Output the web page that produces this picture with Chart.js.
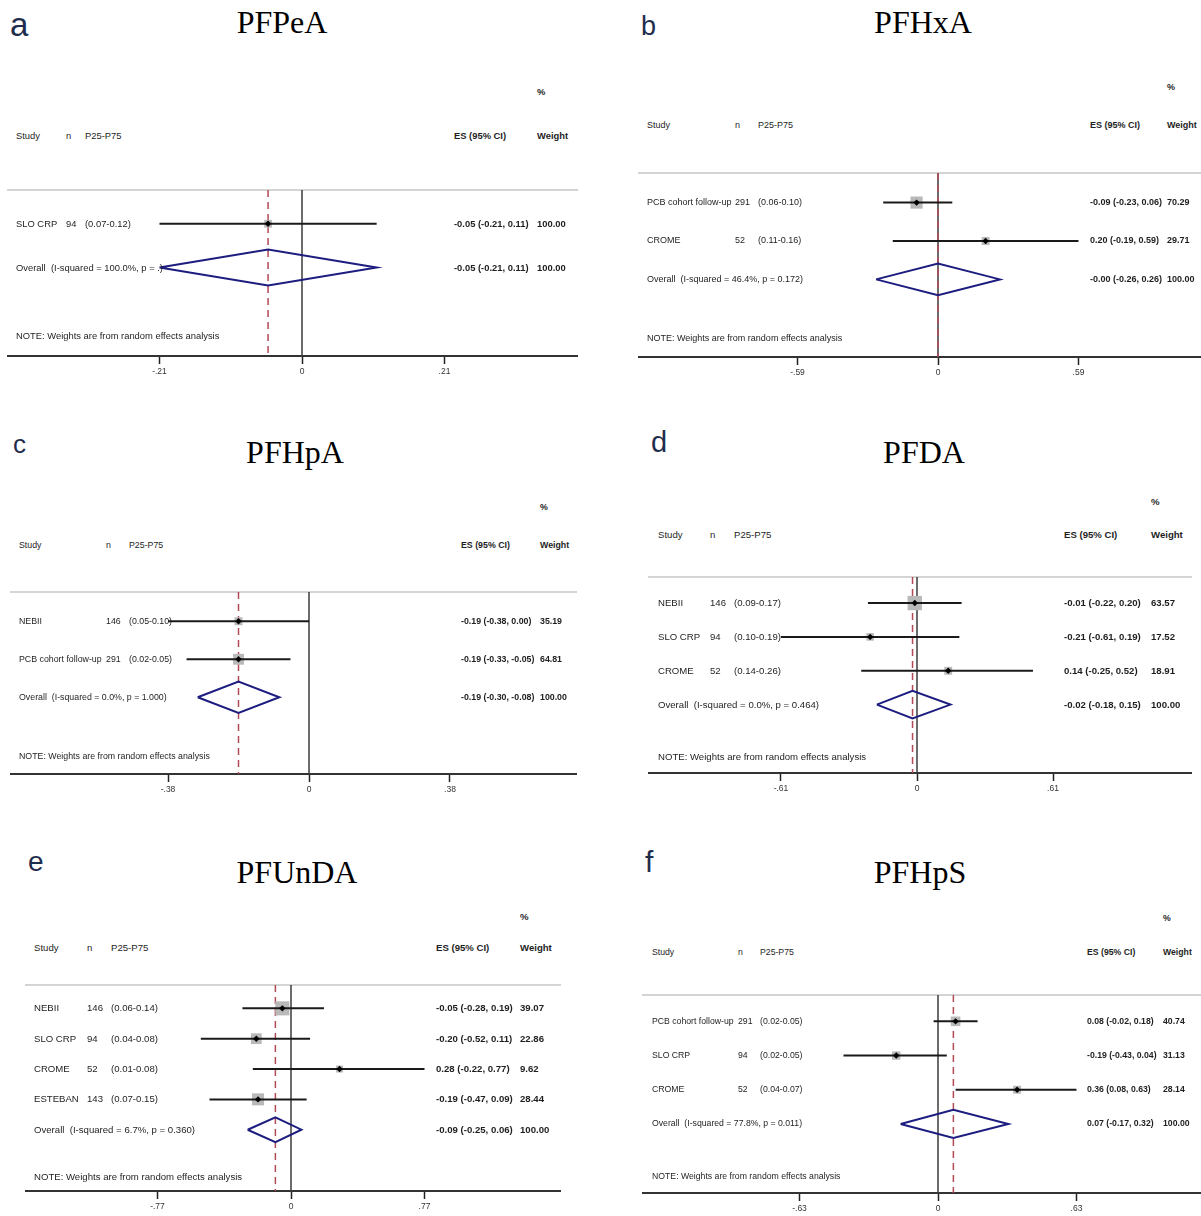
<!DOCTYPE html>
<html><head><meta charset="utf-8">
<script src="https://cdn.jsdelivr.net/npm/chart.js@4/dist/chart.umd.min.js"></script>
<style>
html,body{margin:0;padding:0;background:#fff}
body{width:1201px;height:1216px;position:relative;overflow:hidden;font-family:'Liberation Sans',Arial,sans-serif}
.t{position:absolute;white-space:pre;color:#1e1e1e}
.b{font-weight:bold}
.title{position:absolute;font-family:'Liberation Serif','Times New Roman',serif;color:#000;white-space:nowrap;line-height:1}
.letter{position:absolute;font-family:'Liberation Sans',Arial,sans-serif;color:#1f2d4d;line-height:1}
canvas{position:absolute}
</style></head><body>
<script>
// ---------- DATA ----------
const panelLetters = ['a','b','c','d','e','f'];
const panelTitles  = ['PFPeA','PFHxA','PFHpA','PFDA','PFUnDA','PFHpS'];

const studies_a = ['SLO CRP'];
const n_a   = [94];
const iqr_a = ['(0.07-0.12)'];
const es_a  = [-0.05];
const lo_a  = [-0.21];
const hi_a  = [0.11];
const wt_a  = [100.00];
const overall_a = [-0.05, -0.21, 0.11];
const het_a = 'I-squared = 100.0%, p = .';
const tick_a = 0.21;

const studies_b = ['PCB cohort follow-up','CROME'];
const n_b   = [291, 52];
const iqr_b = ['(0.06-0.10)','(0.11-0.16)'];
const es_b  = [-0.09, 0.20];
const lo_b  = [-0.23, -0.19];
const hi_b  = [0.06, 0.59];
const wt_b  = [70.29, 29.71];
const overall_b = [-0.00, -0.26, 0.26];
const het_b = 'I-squared = 46.4%, p = 0.172';
const tick_b = 0.59;

const studies_c = ['NEBII','PCB cohort follow-up'];
const n_c   = [146, 291];
const iqr_c = ['(0.05-0.10)','(0.02-0.05)'];
const es_c  = [-0.19, -0.19];
const lo_c  = [-0.38, -0.33];
const hi_c  = [0.00, -0.05];
const wt_c  = [35.19, 64.81];
const overall_c = [-0.19, -0.30, -0.08];
const het_c = 'I-squared = 0.0%, p = 1.000';
const tick_c = 0.38;

const studies_d = ['NEBII','SLO CRP','CROME'];
const n_d   = [146, 94, 52];
const iqr_d = ['(0.09-0.17)','(0.10-0.19)','(0.14-0.26)'];
const es_d  = [-0.01, -0.21, 0.14];
const lo_d  = [-0.22, -0.61, -0.25];
const hi_d  = [0.20, 0.19, 0.52];
const wt_d  = [63.57, 17.52, 18.91];
const overall_d = [-0.02, -0.18, 0.15];
const het_d = 'I-squared = 0.0%, p = 0.464';
const tick_d = 0.61;

const studies_e = ['NEBII','SLO CRP','CROME','ESTEBAN'];
const n_e   = [146, 94, 52, 143];
const iqr_e = ['(0.06-0.14)','(0.04-0.08)','(0.01-0.08)','(0.07-0.15)'];
const es_e  = [-0.05, -0.20, 0.28, -0.19];
const lo_e  = [-0.28, -0.52, -0.22, -0.47];
const hi_e  = [0.19, 0.11, 0.77, 0.09];
const wt_e  = [39.07, 22.86, 9.62, 28.44];
const overall_e = [-0.09, -0.25, 0.06];
const het_e = 'I-squared = 6.7%, p = 0.360';
const tick_e = 0.77;

const studies_f = ['PCB cohort follow-up','SLO CRP','CROME'];
const n_f   = [291, 94, 52];
const iqr_f = ['(0.02-0.05)','(0.02-0.05)','(0.04-0.07)'];
const es_f  = [0.08, -0.19, 0.36];
const lo_f  = [-0.02, -0.43, 0.08];
const hi_f  = [0.18, 0.04, 0.63];
const wt_f  = [40.74, 31.13, 28.14];
const overall_f = [0.07, -0.17, 0.32];
const het_f = 'I-squared = 77.8%, p = 0.011';
const tick_f = 0.63;

// ---------- LAYOUT (positions / sizes / styles) ----------
const layouts = [
  {L:7,  R:578,  T:190, B:356,  zx:302, ppu:678.6, cols:[16,66,85,454,537],     fs:9.4, box:0.77, tx:282, tb:33,  lx:10,  lb:36,  ls:33},
  {L:638,R:1201, T:173, B:357,  zx:938, ppu:238.1, cols:[647,735,758,1090,1167], fs:9.0, box:1.45, tx:923, tb:33,  lx:641, lb:36,  ls:27},
  {L:10, R:577,  T:592, B:774,  zx:309, ppu:371.0, cols:[19,106,129,461,540],    fs:8.8, box:1.35, tx:295, tb:463, lx:13,  lb:453, ls:26},
  {L:648,R:1192, T:577, B:773,  zx:917, ppu:223.0, cols:[658,710,734,1064,1151], fs:9.6, box:1.8,  tx:924, tb:463, lx:651, lb:453, ls:29},
  {L:25, R:561,  T:985, B:1191, zx:291, ppu:173.4, cols:[34,87,111,436,520],     fs:9.6, box:2.25, tx:297, tb:883, lx:28,  lb:872, ls:28},
  {L:642,R:1201, T:995, B:1193, zx:938, ppu:219.8, cols:[652,738,760,1087,1163], fs:8.7, box:1.5,  tx:920, tb:883, lx:645, lb:872, ls:30}
];

const panels = [
  {studies:studies_a,n:n_a,iqr:iqr_a,es:es_a,lo:lo_a,hi:hi_a,wt:wt_a,ov:overall_a,het:het_a,tick:tick_a},
  {studies:studies_b,n:n_b,iqr:iqr_b,es:es_b,lo:lo_b,hi:hi_b,wt:wt_b,ov:overall_b,het:het_b,tick:tick_b},
  {studies:studies_c,n:n_c,iqr:iqr_c,es:es_c,lo:lo_c,hi:hi_c,wt:wt_c,ov:overall_c,het:het_c,tick:tick_c},
  {studies:studies_d,n:n_d,iqr:iqr_d,es:es_d,lo:lo_d,hi:hi_d,wt:wt_d,ov:overall_d,het:het_d,tick:tick_d},
  {studies:studies_e,n:n_e,iqr:iqr_e,es:es_e,lo:lo_e,hi:hi_e,wt:wt_e,ov:overall_e,het:het_e,tick:tick_e},
  {studies:studies_f,n:n_f,iqr:iqr_f,es:es_f,lo:lo_f,hi:hi_f,wt:wt_f,ov:overall_f,het:het_f,tick:tick_f}
];

const AXIS_H = 26, PAD_TOP = 3;
const Y_TOP = -0.77, Y_BOTTOM_EXTRA = 2.02, DIAMOND_H = 0.41;

function fmt(v){ const neg = v < 0 || Object.is(v,-0); return (neg?'-':'') + Math.abs(v).toFixed(2); }
function fmtTick(v){ if (Math.abs(v) < 1e-9) return '0'; return (v<0?'-':'') + Math.abs(v).toFixed(2).replace(/^0/,''); }

function addText(str, x, y, fs, bold){
  const d = document.createElement('div');
  d.className = 't' + (bold ? ' b' : '');
  d.textContent = str;
  d.style.left = x + 'px';
  d.style.top = (y - fs*0.52) + 'px';
  d.style.fontSize = fs + 'px';
  d.style.lineHeight = fs + 'px';
  document.body.appendChild(d);
}

function build(P, G, idx){
  const N = P.studies.length;
  const yMin = Y_TOP, yMax = N + Y_BOTTOM_EXTRA;
  const cw = G.R - G.L, ch = G.B - G.T + PAD_TOP + AXIS_H;
  const canvas = document.createElement('canvas');
  canvas.width = cw; canvas.height = ch;
  canvas.style.left = G.L + 'px'; canvas.style.top = (G.T - PAD_TOP) + 'px';
  canvas.style.width = cw + 'px'; canvas.style.height = ch + 'px';
  document.body.appendChild(canvas);

  const xMin = (G.L - G.zx) / G.ppu, xMax = (G.R - G.zx) / G.ppu;
  const ds = [];
  ds.push({label:'estimate', data:P.es.map((v,i)=>({x:v,y:i})), pointStyle:'rectRot', pointRadius:3.2,
           backgroundColor:'#000', borderColor:'#000', borderWidth:0, order:0});
  const o = P.ov;
  ds.push({label:'overall', data:[{x:o[1],y:N},{x:o[0],y:N-DIAMOND_H},{x:o[2],y:N},{x:o[0],y:N+DIAMOND_H},{x:o[1],y:N}],
           showLine:true, pointRadius:0, borderColor:'#1d1d80', borderWidth:2, fill:false, tension:0, order:1});
  P.studies.forEach((s,i)=>ds.push({label:s, data:[{x:P.lo[i],y:i},{x:P.hi[i],y:i}], showLine:true, pointRadius:0,
           borderColor:'#1a1a1a', borderWidth:2, order:2}));
  ds.push({label:'weight', data:P.es.map((v,i)=>({x:v,y:i})), pointStyle:'rect',
           pointRadius:P.wt.map(w=>G.box*Math.sqrt(w)/Math.SQRT2), backgroundColor:'#b9b9b9', borderWidth:0, order:3});
  ds.push({label:'pooled', data:[{x:o[0],y:yMin},{x:o[0],y:yMax}], showLine:true, pointRadius:0,
           borderColor:'#b24a58', borderWidth:1.5, borderDash:[7,5], order:4});
  ds.push({label:'null', data:[{x:0,y:yMin},{x:0,y:yMax}], showLine:true, pointRadius:0,
           borderColor:'#3c3c3c', borderWidth:1.5, order:5});

  const chart = new Chart(canvas, {
    type:'scatter',
    data:{datasets:ds},
    options:{
      responsive:false, animation:false, events:[], devicePixelRatio:1,
      layout:{autoPadding:false, padding:{top:PAD_TOP,left:0,right:0,bottom:0}},
      plugins:{legend:{display:false}, tooltip:{enabled:false}},
      scales:{
        x:{type:'linear', position:'bottom', min:xMin, max:xMax,
           afterBuildTicks:s=>{ s.ticks = [-P.tick,0,P.tick].map(v=>({value:v})); },
           afterFit:s=>{ s.height = AXIS_H; },
           grid:{display:true, drawOnChartArea:false, drawTicks:true, tickLength:8, tickColor:'#222', tickWidth:1.5},
           border:{display:true, color:'#333', width:2},
           ticks:{callback:v=>fmtTick(v), font:{family:'Liberation Sans', size:8.5}, color:'#333', padding:3, maxRotation:0, autoSkip:false}},
        x2:{type:'linear', position:'top', min:xMin, max:xMax, display:true,
           afterFit:s=>{ s.height = 0; },
           grid:{display:false}, ticks:{display:false},
           border:{display:true, color:'#d4d4d4', width:2}},
        y:{type:'linear', display:false, min:yMin, max:yMax, reverse:true}
      }
    }
  });

  const yp = v => (G.T - PAD_TOP) + chart.scales.y.getPixelForValue(v);
  const c = G.cols, fs = G.fs;
  // headers
  addText('%', c[4], yp(-3), fs, true);
  addText('Study', c[0], yp(-2), fs, false);
  addText('n', c[1], yp(-2), fs, false);
  addText('P25-P75', c[2], yp(-2), fs, false);
  addText('ES (95% CI)', c[3], yp(-2), fs, true);
  addText('Weight', c[4], yp(-2), fs, true);
  // rows
  P.studies.forEach((s,i)=>{
    addText(s, c[0], yp(i), fs, false);
    addText(String(P.n[i]), c[1], yp(i), fs, false);
    addText(P.iqr[i], c[2], yp(i), fs, false);
    addText(fmt(P.es[i]) + ' (' + fmt(P.lo[i]) + ', ' + fmt(P.hi[i]) + ')', c[3], yp(i), fs, true);
    addText(P.wt[i].toFixed(2), c[4], yp(i), fs, true);
  });
  addText('Overall  (' + P.het + ')', c[0], yp(N), fs, false);
  addText(fmt(o[0]) + ' (' + fmt(o[1]) + ', ' + fmt(o[2]) + ')', c[3], yp(N), fs, true);
  addText((100).toFixed(2), c[4], yp(N), fs, true);
  addText('NOTE: Weights are from random effects analysis', c[0], yp(N + 1.55), fs, false);

  // title and panel letter
  const t = document.createElement('div');
  t.className = 'title'; t.textContent = panelTitles[idx];
  t.style.fontSize = '32px'; t.style.left = G.tx + 'px'; t.style.top = (G.tb - 32*0.8375) + 'px';
  t.style.transform = 'translateX(-50%)';
  document.body.appendChild(t);
  const l = document.createElement('div');
  l.className = 'letter'; l.textContent = panelLetters[idx];
  l.style.fontSize = G.ls + 'px'; l.style.left = G.lx + 'px'; l.style.top = (G.lb - G.ls*0.8465) + 'px';
  document.body.appendChild(l);
}

panels.forEach((P,i)=>build(P, layouts[i], i));
</script>
</body></html>
